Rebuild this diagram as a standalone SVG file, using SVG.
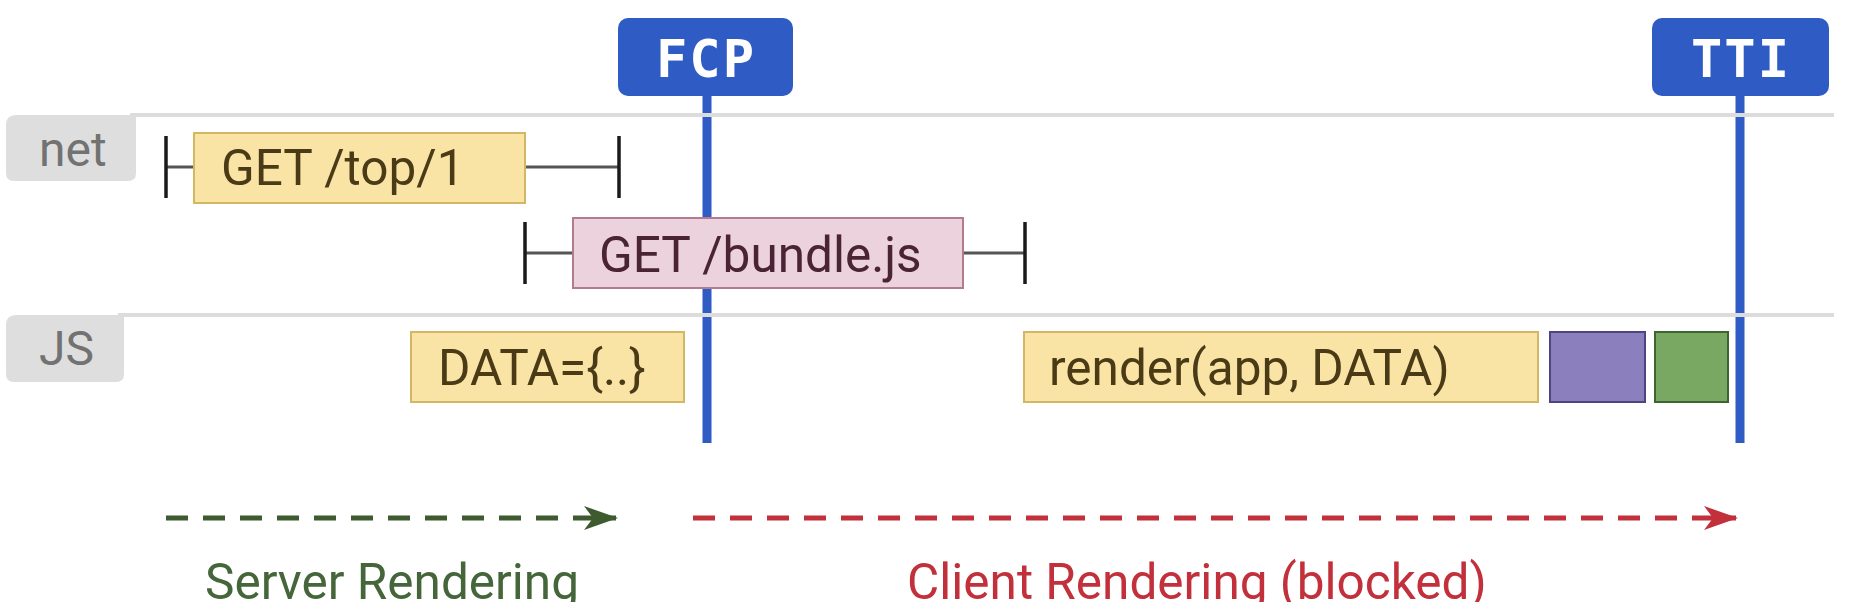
<svg xmlns="http://www.w3.org/2000/svg" width="1859" height="602" viewBox="0 0 1859 602">
<style>
.lbl{font-family:Roboto,"Liberation Sans",sans-serif;font-size:48px;fill:#727272}
.t{font-family:Roboto,"Liberation Sans",sans-serif;font-size:49.5px}
.yb{fill:#f9e4a6;stroke:#d3b764;stroke-width:2}
.yt{fill:#4a3b16}
.pb{fill:#ebd2dd;stroke:#b27b90;stroke-width:2}
.pt{fill:#4a2433}
.tick{stroke:#1a1a1a;stroke-width:3.5;fill:none}
.wire{stroke:#555;stroke-width:3;fill:none}
.sep{stroke:#dcdcdc;stroke-width:4}
.mk{fill:#2f5bc4}
.mkt{font-family:"DejaVu Sans Mono","Liberation Mono",monospace;font-weight:bold;font-size:52px;fill:#fff}
.vl{stroke:#2f5bc4;stroke-width:9}
.cap{font-family:Roboto,"Liberation Sans",sans-serif;font-size:49.5px}
</style>
<defs>
<marker id="ag" viewBox="0 0 34 24" refX="32" refY="12" markerWidth="34" markerHeight="24" markerUnits="userSpaceOnUse" orient="auto">
<path d="M0,0 L34,12 L0,24 L9,12 Z" fill="#3e5b30"/>
</marker>
<marker id="ar" viewBox="0 0 34 24" refX="32" refY="12" markerWidth="34" markerHeight="24" markerUnits="userSpaceOnUse" orient="auto">
<path d="M0,0 L34,12 L0,24 L9,12 Z" fill="#c2303b"/>
</marker>
</defs>
<rect width="1859" height="602" fill="#fff"/>

<g id="markers-lines">
<line class="vl" x1="707" y1="92" x2="707" y2="443"/>
<line class="vl" x1="1740" y1="92" x2="1740" y2="443"/>
</g>

<g id="lane-net">
<path d="M6,125 Q6,115 16,115 L136,115 L136,173 Q136,181 128,181 L14,181 Q6,181 6,173 Z" fill="#dedede"/>
<line class="sep" x1="130" y1="115" x2="1834" y2="115"/>
<text class="lbl" x="39" y="166">net</text>
</g>

<g id="lane-js">
<path d="M6,325 Q6,315 16,315 L124,315 L124,374 Q124,382 116,382 L14,382 Q6,382 6,374 Z" fill="#dedede"/>
<line class="sep" x1="118" y1="315" x2="1834" y2="315"/>
<text class="lbl" x="39" y="365">JS</text>
</g>

<g id="connectors">
<line class="wire" x1="166" y1="167" x2="194" y2="167"/>
<line class="wire" x1="525" y1="167" x2="619" y2="167"/>
<line class="tick" x1="166" y1="136" x2="166" y2="198"/>
<line class="tick" x1="619" y1="136" x2="619" y2="198"/>
<line class="wire" x1="525" y1="253" x2="573" y2="253"/>
<line class="wire" x1="963" y1="253" x2="1025" y2="253"/>
<line class="tick" x1="525" y1="222" x2="525" y2="284"/>
<line class="tick" x1="1025" y1="222" x2="1025" y2="284"/>
<line x1="166" y1="518" x2="616" y2="518" stroke="#3e5b30" stroke-width="5" stroke-dasharray="22 15" marker-end="url(#ag)"/>
<line x1="693" y1="518" x2="1736" y2="518" stroke="#c2303b" stroke-width="5" stroke-dasharray="22 15" marker-end="url(#ar)"/>
</g>

<g id="get-top">
<rect class="yb" x="194" y="133" width="331" height="70"/>
<text class="t yt" x="221" y="185">GET /top/1</text>
</g>

<g id="get-bundle">
<rect class="pb" x="573" y="218" width="390" height="70"/>
<text class="t pt" x="599" y="272">GET /bundle.js</text>
</g>

<g id="data">
<rect class="yb" x="411" y="332" width="273" height="70"/>
<text class="t yt" x="438" y="385">DATA={..}</text>
</g>

<g id="render">
<rect class="yb" x="1024" y="332" width="514" height="70"/>
<text class="t yt" x="1049" y="385">render(app, DATA)</text>
</g>

<g id="purple-task">
<rect x="1550" y="332" width="95" height="70" fill="#8c7fbd" stroke="#4f4381" stroke-width="2"/>
</g>

<g id="green-task">
<rect x="1655" y="332" width="73" height="70" fill="#78a862" stroke="#3c6530" stroke-width="2"/>
</g>

<g id="fcp">
<rect class="mk" x="618" y="18" width="175" height="78" rx="10"/>
<text class="mkt" x="706" y="77" text-anchor="middle" letter-spacing="2">FCP</text>
</g>

<g id="tti">
<rect class="mk" x="1652" y="18" width="177" height="78" rx="10"/>
<text class="mkt" x="1741" y="77" text-anchor="middle" letter-spacing="2">TTI</text>
</g>

<g id="captions">
<text class="cap" x="205" y="599" fill="#45663a">Server Rendering</text>
<text class="cap" x="907" y="599" fill="#c2303b">Client Rendering (blocked)</text>
</g>
</svg>
